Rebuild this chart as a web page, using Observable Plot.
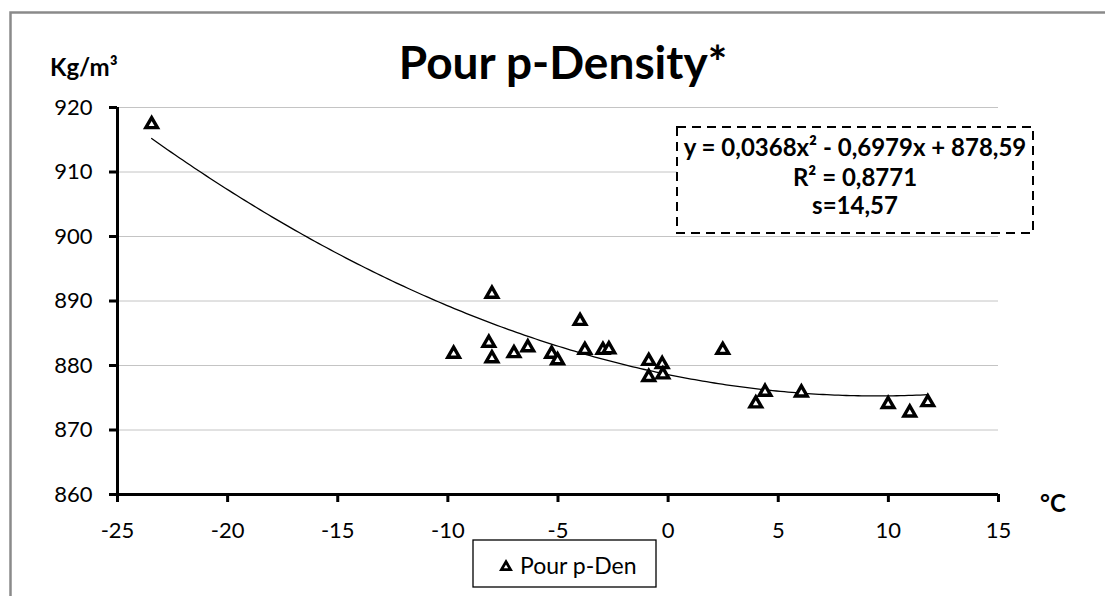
<!DOCTYPE html>
<html>
<head>
<meta charset="utf-8">
<script src="https://cdn.jsdelivr.net/npm/d3@7"></script>
<script src="https://cdn.jsdelivr.net/npm/@observablehq/plot@0.6"></script>
<style>
  html, body { margin: 0; padding: 0; background: #fff; }
  #chart svg { display: block; }
</style>
</head>
<body>
<div id="chart"></div>
<script>
// Pour point (°C) against density (kg/m³)
const pourPoint = [-23.45, -9.74, -8.0, -8.14, -8.0, -7.0, -6.37, -5.29, -5.02, -4.0, -3.78, -2.96,
  -2.69, -0.88, -0.88, -0.27, -0.24, 2.48, 3.98, 4.40, 6.05, 9.99, 10.97, 11.79];
const density = [917.4, 881.8, 891.1, 883.5, 881.1, 881.9, 882.8, 881.8, 880.8, 886.9, 882.4, 882.4,
  882.5, 880.7, 878.2, 880.2, 878.6, 882.4, 874.1, 875.9, 875.8, 874.0, 872.7, 874.3];

// Polynomial trend line y = a·x² + b·x + c, as given in the equation label
const trendCoefficients = [0.0368, -0.6979, 878.59];
const equationLines = ["y = 0,0368x² - 0,6979x + 878,59", "R² = 0,8771", "s=14,57"];

const xTicks = [-25, -20, -15, -10, -5, 0, 5, 10, 15];
const yTicks = [860, 870, 880, 890, 900, 910, 920];

const title = "Pour p-Density*";
const yUnit = "Kg/m³";
const xUnit = "°C";
const seriesName = "Pour p-Den";

const points = pourPoint.map((t, i) => ({t, d: density[i]}));
const [a, b, c] = trendCoefficients;
const xMin = d3.min(pourPoint), xMax = d3.max(pourPoint);
const trend = d3.range(xMin, xMax + 0.001, (xMax - xMin) / 200).map(t => ({t, d: a * t * t + b * t + c}));

const W = 1105, H = 596;
const font = "Lato, 'Open Sans', sans-serif";

const chart = Plot.plot({
  width: W,
  height: H,
  marginLeft: 117,
  marginRight: 107,
  marginTop: 107,
  marginBottom: 102,
  style: {fontFamily: font, background: "#fff", color: "#000"},
  x: {domain: [-25, 15]},
  y: {domain: [860, 920]},
  marks: [
    Plot.gridY(yTicks.slice(1), {stroke: "#c4c4c4", strokeOpacity: 1, strokeWidth: 1}),
    // tick marks only; the labels are drawn as text marks below
    Plot.axisY({ticks: yTicks, tickSize: 8, strokeWidth: 3, label: null, tickFormat: () => ""}),
    Plot.axisX({ticks: xTicks, tickSize: 8, strokeWidth: 3, label: null, tickFormat: () => ""}),
    Plot.text(yTicks, {y: d => d, text: d => String(d), frameAnchor: "left", dx: -25,
      textAnchor: "end", fontSize: 22, fill: "#000"}),
    Plot.text(xTicks, {x: d => d, text: d => String(d), frameAnchor: "bottom", dy: 43,
      textAnchor: "middle", fontSize: 22, fill: "#000"}),
    Plot.ruleY([860], {stroke: "#000", strokeWidth: 3}),
    Plot.ruleX([-25], {stroke: "#000", strokeWidth: 3}),
    Plot.line(trend, {x: "t", y: "d", stroke: "#000", strokeWidth: 1.3}),
    Plot.dot(points, {x: "t", y: "d", symbol: "triangle", r: 4.3, stroke: "#000", fill: "#fff", strokeWidth: 3.4})
  ]
});

document.getElementById("chart").appendChild(chart);

const svg = d3.select(chart);

// Chart furniture: frame, title, units, equation box and legend
const g = svg.append("g").attr("font-family", font).attr("fill", "#000").attr("text-anchor", "start");

g.append("path")
  .attr("d", `M10.5,${H} V12.5 H${W}`)
  .attr("fill", "none").attr("stroke", "#8a8a8a").attr("stroke-width", 2.5);

g.append("text").attr("x", 563).attr("y", 79).attr("text-anchor", "middle")
  .attr("font-size", 46).attr("font-weight", "bold").text(title);

g.append("text").attr("x", 50).attr("y", 76)
  .attr("font-size", 24).attr("font-weight", "bold").text(yUnit);

g.append("text").attr("x", 1040).attr("y", 512)
  .attr("font-size", 24).attr("font-weight", "bold").text(xUnit);

// Equation box
g.append("rect").attr("x", 677).attr("y", 127).attr("width", 356).attr("height", 106)
  .attr("fill", "#fff").attr("stroke", "#000").attr("stroke-width", 2).attr("stroke-dasharray", "9,6");
const eqY = [156, 186, 214];
equationLines.forEach((line, i) => {
  g.append("text").attr("x", 855).attr("y", eqY[i]).attr("text-anchor", "middle")
    .attr("font-size", 24).attr("font-weight", "bold").text(line);
});

// Legend
g.append("rect").attr("x", 473).attr("y", 540).attr("width", 183).attr("height", 47)
  .attr("fill", "#fff").attr("stroke", "#000").attr("stroke-width", 1.3);
g.append("path").attr("transform", "translate(506,567)")
  .attr("d", d3.symbol(d3.symbolTriangle, 36)())
  .attr("fill", "#fff").attr("stroke", "#000").attr("stroke-width", 2.8);
g.append("text").attr("x", 520).attr("y", 574).attr("font-size", 23).text(seriesName);
</script>
</body>
</html>
